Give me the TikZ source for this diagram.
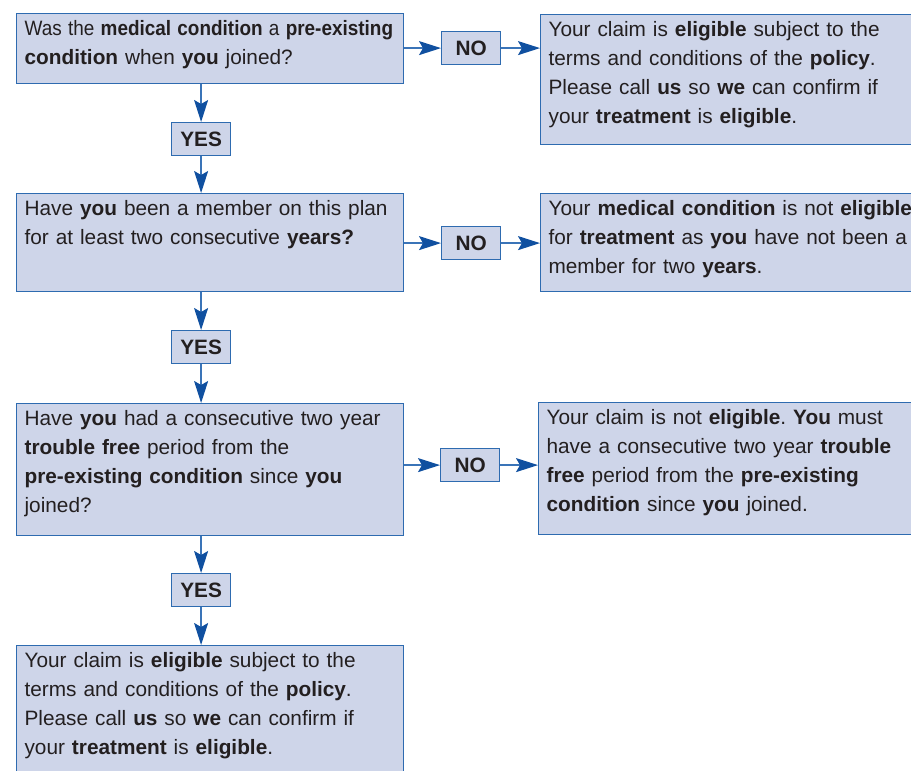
\documentclass[tikz,border=0pt]{standalone}
\usepackage{fontspec}
\setmainfont{Liberation Sans}
\usetikzlibrary{arrows.meta}
\definecolor{boxfill}{RGB}{206,213,233}
\definecolor{boxline}{RGB}{46,107,176}
\definecolor{lineblue}{RGB}{58,116,184}
\definecolor{tipblue}{RGB}{16,80,160}
\definecolor{inkgrey}{RGB}{35,31,32}
\frenchspacing

\begin{document}
\begin{tikzpicture}[x=1pt,y=-1pt]
    \clip (0,0) rectangle (911,771);

        % Question and outcome boxes, placed by their top left corner
        \begin{scope}[every node/.style={draw=boxline, fill=boxfill, line width=1.2pt,
                  anchor=north west, inner xsep=8pt, inner ysep=7pt, text width=371pt,
                  align=left, text height=15pt, text=inkgrey,
                  font=\fontsize{20.8}{29}\selectfont}]
        \node[text depth=41pt] (Q1) at (16,13) {\scalebox{0.91}[1]{Was the \textbf{medical condition} a \textbf{pre-existing}}\\
            \textbf{condition} when \textbf{you} joined?};
        \node[text depth=69pt] (Q2) at (16,193) {Have \textbf{you} been a member on this plan\\
            for at least two consecutive \textbf{years?}};
        \node[text depth=103pt] (Q3) at (16,403) {Have \textbf{you} had a consecutive two year\\
            \textbf{trouble free} period from the\\
            \textbf{pre-existing condition} since \textbf{you}\\
            joined?};
        \node[text depth=140pt] (R4) at (16,645) {Your claim is \textbf{eligible} subject to the\\
            terms and conditions of the \textbf{policy}.\\
            Please call \textbf{us} so \textbf{we} can confirm if\\
            your \textbf{treatment} is \textbf{eligible}.};

        % outcomes on the right, cut off by the page edge
        \node[text depth=101pt, text width=384pt] (R1) at (540,14) {Your claim is \textbf{eligible} subject to the\\
            terms and conditions of the \textbf{policy}.\\
            Please call \textbf{us} so \textbf{we} can confirm if\\
            your \textbf{treatment} is \textbf{eligible}.};
        \node[text depth=69pt, text width=384pt] (R2) at (540,193) {Your \textbf{medical condition} is not \textbf{eligible}\\
            for \textbf{treatment} as \textbf{you} have not been a\\
            member for two \textbf{years}.};
        \node[text depth=103pt, text width=384pt] (R3) at (538,402) {Your claim is not \textbf{eligible}. \textbf{You} must\\
            have a consecutive two year \textbf{trouble}\\
            \textbf{free} period from the \textbf{pre-existing}\\
            \textbf{condition} since \textbf{you} joined.};
        \end{scope}

        % YES / NO answer boxes
        \begin{scope}[every node/.style={draw=boxline, fill=boxfill, line width=1.2pt,
                  anchor=north west, minimum width=59pt, minimum height=33pt, inner sep=0pt,
                  text=inkgrey, font=\fontsize{20.8}{24}\selectfont\bfseries}]
        \node (Y1) at (171,122) {YES};
        \node (Y2) at (171,330) {YES};
        \node (Y3) at (171,573) {YES};
        \node (N1) at (441,31) {NO};
        \node (N2) at (441,226) {NO};
        \node (N3) at (440,448) {NO};
        \end{scope}

        % connectors
        \begin{scope}[>={Stealth[length=22pt, width=14pt, inset=4pt, tipblue]},
                  every edge/.style={draw=lineblue, line width=1.4pt}]
        \path [->] (Q1.south -| Y1) edge (Y1);
        \path [->] (Y1) edge (Q2.north -| Y1);
        \path [->] (Q2.south -| Y2) edge (Y2);
        \path [->] (Y2) edge (Q3.north -| Y2);
        \path [->] (Q3.south -| Y3) edge (Y3);
        \path [->] (Y3) edge (R4.north -| Y3);

        \path [->] (N1 -| Q1.east) edge (N1);
        \path [->] (N1) edge (N1 -| R1.west);
        \path [->] (N2 -| Q2.east) edge (N2);
        \path [->] (N2) edge (N2 -| R2.west);
        \path [->] (N3 -| Q3.east) edge (N3);
        \path [->] (N3) edge (N3 -| R3.west);
        \end{scope}

\end{tikzpicture}
\end{document}
